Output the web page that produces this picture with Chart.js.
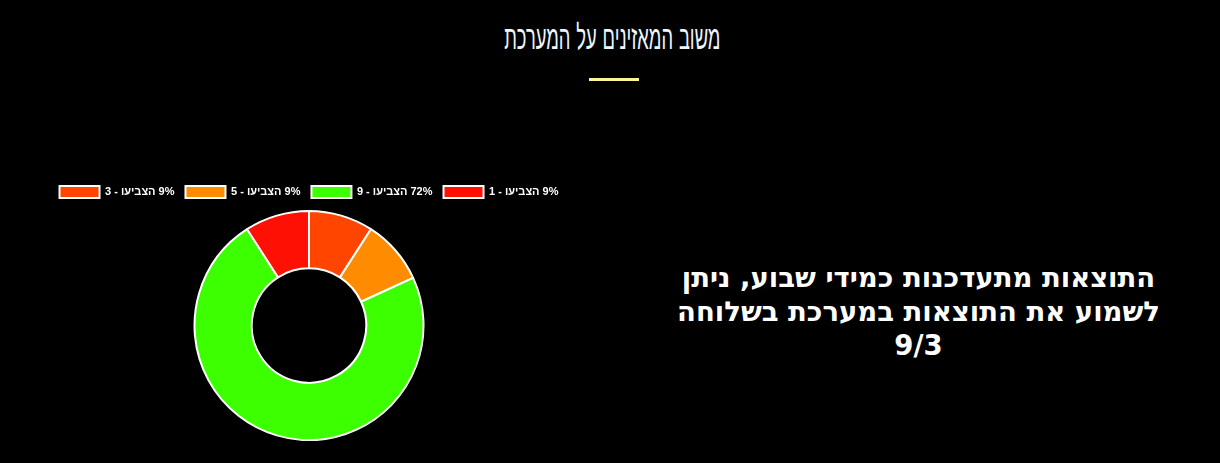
<!DOCTYPE html>
<html lang="he">
<head>
    <meta charset="UTF-8">
    <title>משוב המאזינים על המערכת</title>
    <script src="https://cdn.jsdelivr.net/npm/chart.js"></script>
    <style>
        body {
            margin: 0;
            background: #000;
            width: 1220px;
            height: 463px;
            overflow: hidden;
            position: relative;
            font-family: 'DejaVu Sans', sans-serif;
        }
        .title {
            position: absolute;
            left: 0;
            width: 1224px;
            top: 17px;
            text-align: center;
            color: #eef6ff;
            font-size: 34px;
            font-weight: 200;
            direction: rtl;
        }
        .title span {
            display: inline-block;
            transform: scaleX(0.54);
        }
        .title-line {
            position: absolute;
            left: 589px;
            top: 78px;
            width: 50px;
            height: 3px;
            background: #fdf59a;
        }
        .chart-box {
            position: absolute;
            left: 0;
            top: 175px;
            width: 618px;
            height: 266px;
        }
        .note {
            position: absolute;
            left: 671px;
            top: 260px;
            width: 495px;
            text-align: center;
            direction: rtl;
            color: #fff;
            font-size: 27.5px;
            font-weight: bold;
            line-height: 34px;
        }
    </style>
</head>
<body>
    <div class="title"><span>משוב המאזינים על המערכת</span></div>
    <div class="title-line"></div>

    <div class="chart-box">
        <canvas id="feedbackChart"></canvas>
    </div>

    <div class="note">התוצאות מתעדכנות כמידי שבוע, ניתן לשמוע את התוצאות במערכת בשלוחה 9/3</div>

    <script>
        // ratings the listeners chose, number of votes, shown percent
        const ratings = [3, 5, 9, 1];
        const votes = [1, 1, 8, 1];
        const percents = [9, 9, 72, 9];
        const colors = ['#ff4500', '#ff8c00', '#3cff00', '#ff1005'];

        const labels = ratings.map((r, i) => percents[i] + '% הצביעו - ' + r);

        // a little extra room under the legend
        const legendGap = {
            id: 'legendGap',
            beforeInit(chart) {
                const fit = chart.legend.fit;
                chart.legend.fit = function () {
                    fit.bind(chart.legend)();
                    this.height += 2;
                };
            }
        };

        new Chart(document.getElementById('feedbackChart'), {
            type: 'doughnut',
            data: {
                labels: labels,
                datasets: [{
                    data: votes,
                    backgroundColor: colors,
                    borderColor: '#fff',
                    borderWidth: 2
                }]
            },
            options: {
                responsive: true,
                maintainAspectRatio: false,
                animation: false,
                cutout: '50%',
                plugins: {
                    legend: {
                        position: 'top',
                        textDirection: 'rtl',
                        labels: {
                            color: '#fff',
                            boxWidth: 40,
                            boxHeight: 12,
                            padding: 11,
                            font: { size: 11, weight: 'bold', family: 'Arial' }
                        }
                    },
                    tooltip: { enabled: false }
                }
            },
            plugins: [legendGap]
        });
    </script>
</body>
</html>
